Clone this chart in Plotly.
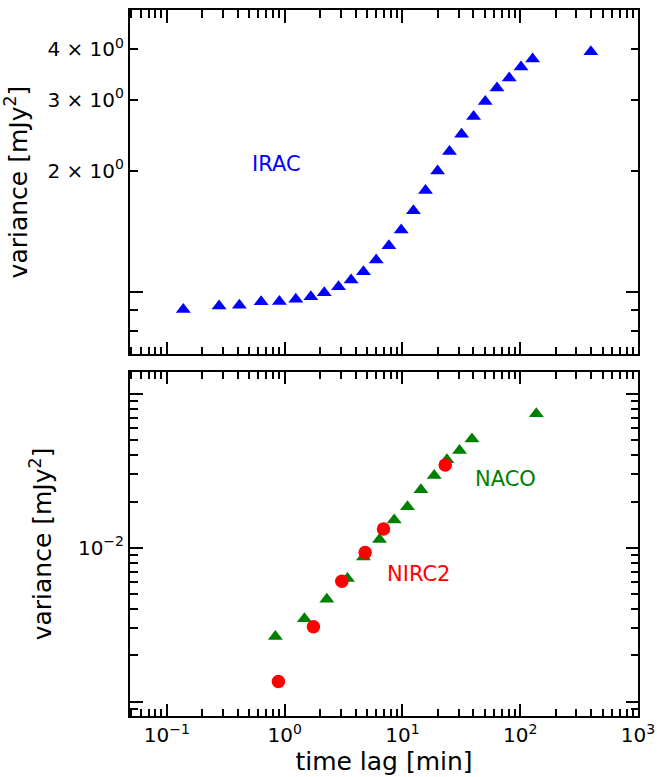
import numpy as np
import plotly.graph_objects as go

# ---------------- data ----------------
irac_lag = [0.138, 0.278, 0.413, 0.632, 0.903, 1.245, 1.67, 2.17, 2.87, 3.67,
            4.67, 5.99, 7.68, 9.77, 12.4, 15.7, 19.9, 25.1, 31.8, 40.2,
            50.5, 63.5, 80.7, 101.6, 127.4, 398.0]
irac_var = [0.905, 0.923, 0.927, 0.946, 0.948, 0.959, 0.973, 0.996, 1.031, 1.071,
            1.123, 1.20, 1.303, 1.425, 1.591, 1.784, 1.996, 2.229, 2.462, 2.723,
            2.967, 3.203, 3.391, 3.61, 3.78, 3.94]

naco_lag = [0.835, 1.473, 2.283, 3.418, 4.673, 6.39, 8.52, 11.05, 14.36, 18.63,
            23.88, 30.55, 38.95, 137.0]
naco_var = [2.65e-3, 3.456e-3, 4.64e-3, 6.31e-3, 8.73e-3, 1.135e-2, 1.517e-2,
            1.853e-2, 2.383e-2, 2.955e-2, 3.743e-2, 4.305e-2, 5.11e-2, 7.45e-2]

nirc2_lag = [0.886, 1.757, 3.06, 4.83, 6.91, 23.1]
nirc2_var = [1.352e-3, 3.064e-3, 6.06e-3, 9.33e-3, 1.325e-2, 3.456e-2]

x_major = [0.1, 1, 10, 100, 1000]
x_major_text = ["10<sup>\u22121</sup>", "10<sup>0</sup>", "10<sup>1</sup>",
                "10<sup>2</sup>", "10<sup>3</sup>"]
top_y_ticks = [0.8, 0.9, 2, 3, 4]
top_y_text = ["", "", "2 \u00d7 10<sup>0</sup>", "3 \u00d7 10<sup>0</sup>",
              "4 \u00d7 10<sup>0</sup>"]
bot_y_ticks = [1e-3, 1e-2, 1e-1]
bot_y_text = ["", "10<sup>\u22122</sup>", ""]

# ---------------- figure ----------------
FONT = "DejaVu Sans"
fig = go.Figure()

fig.add_trace(go.Scatter(x=irac_lag, y=irac_var, mode="markers",
                         marker=dict(symbol="triangle-up", size=13, color="#0000ff"),
                         xaxis="x", yaxis="y", showlegend=False))
fig.add_trace(go.Scatter(x=naco_lag, y=naco_var, mode="markers",
                         marker=dict(symbol="triangle-up", size=13, color="#008000"),
                         xaxis="x2", yaxis="y2", showlegend=False))
fig.add_trace(go.Scatter(x=nirc2_lag, y=nirc2_var, mode="markers",
                         marker=dict(symbol="circle", size=13.5, color="#ff0000"),
                         xaxis="x2", yaxis="y2", showlegend=False))

x_minor = [m * 10.0 ** k for k in range(-2, 3) for m in range(2, 10)]
x_minor = [v for v in x_minor if 0.049 < v < 1000]
bot_minor = [m * 10.0 ** k for k in range(-4, 0) for m in range(2, 10)]
bot_minor = [v for v in bot_minor if 8.1e-4 < v < 0.139]

XR = [np.log10(0.0487), 3.0]
common = dict(type="log", showline=True, linecolor="black", linewidth=2,
              mirror="ticks", ticks="inside", tickcolor="black", tickwidth=1.5,
              showgrid=False, zeroline=False, automargin=False,
              tickfont=dict(family=FONT, size=20, color="black"))

xaxis_common = dict(common, range=XR, tickmode="array", tickvals=x_major, ticklen=12.5,
                    minor=dict(tickmode="array", tickvals=x_minor, ticklen=7.5,
                               ticks="inside", tickcolor="black", tickwidth=1.5))

fig.update_layout(
    width=657, height=777,
    margin=dict(l=130, r=19, t=10, b=61),
    plot_bgcolor="white", paper_bgcolor="white",
    font=dict(family=FONT, color="black"),
    xaxis=dict(xaxis_common, domain=[0, 1], anchor="y", matches="x2",
               showticklabels=False),
    xaxis2=dict(xaxis_common, domain=[0, 1], anchor="y2", ticktext=x_major_text,
                title=dict(text="time lag [min]", font=dict(family=FONT, size=25),
                           standoff=6)),
    yaxis=dict(common, domain=[0.5127, 1.0], anchor="x",
               range=[np.log10(0.702), np.log10(5.0)],
               tickmode="array", tickvals=top_y_ticks, ticktext=top_y_text, ticklen=7.5,
               minor=dict(tickmode="array", tickvals=[1.0], ticklen=12.5,
                          ticks="inside", tickcolor="black", tickwidth=1.5),
               title=dict(text="variance [mJy<sup>2</sup>]",
                          font=dict(family=FONT, size=25), standoff=13)),
    yaxis2=dict(common, domain=[0.0, 0.4873], anchor="x2",
                range=[np.log10(8.06e-4), np.log10(0.1393)],
                tickmode="array", tickvals=bot_y_ticks, ticktext=bot_y_text, ticklen=12.5,
                minor=dict(tickmode="array", tickvals=bot_minor, ticklen=7.5,
                           ticks="inside", tickcolor="black", tickwidth=1.5),
                title=dict(text="variance [mJy<sup>2</sup>]",
                           font=dict(family=FONT, size=25), standoff=19)),
)

fig.add_annotation(x=-0.072, y=0.3176, xref="x", yref="y", text="IRAC",
                   showarrow=False, font=dict(family=FONT, size=21, color="#0000ff"))
fig.add_annotation(x=1.873, y=-1.551, xref="x2", yref="y2", text="NACO",
                   showarrow=False, font=dict(family=FONT, size=21, color="#008000"))
fig.add_annotation(x=1.134, y=-2.172, xref="x2", yref="y2", text="NIRC2",
                   showarrow=False, font=dict(family=FONT, size=21, color="#ff0000"))

fig.write_html("out.html")
